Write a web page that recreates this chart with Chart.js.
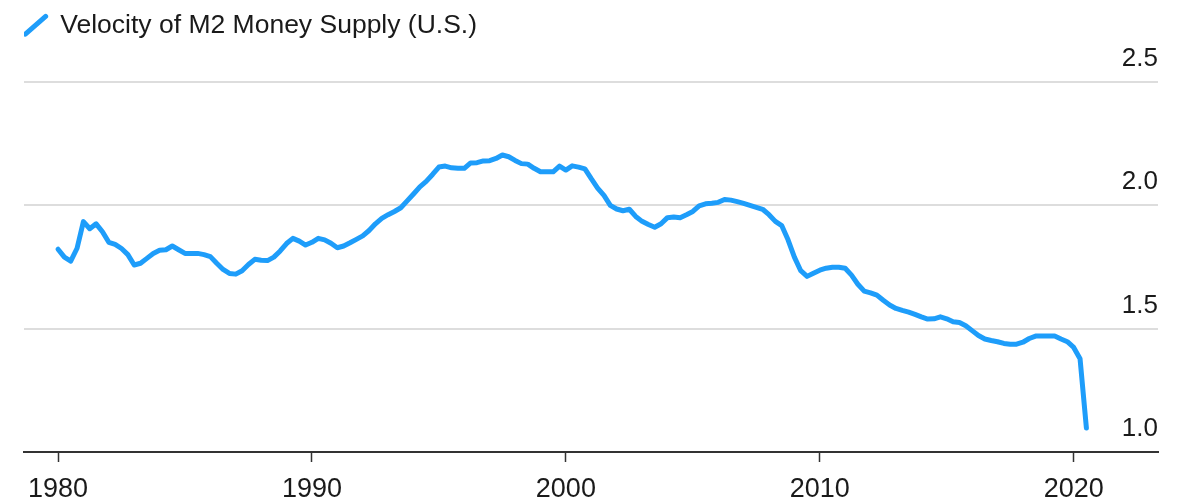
<!DOCTYPE html>
<html>
<head>
<meta charset="utf-8">
<script src="https://cdn.jsdelivr.net/npm/chart.js@4/dist/chart.umd.min.js"></script>
<style>
  html, body { margin: 0; padding: 0; background: #ffffff; }
  #wrap { width: 1197px; height: 502px; position: relative; }
</style>
</head>
<body>
<div id="wrap"><canvas id="c" width="1197" height="502"></canvas></div>
<script>
// ---- Data (quarterly, plotted at quarter-end dates) ----
const seriesLabel = 'Velocity of M2 Money Supply (U.S.)';

const dates = [
  1980.00, 1980.25, 1980.50, 1980.75,
  1981.00, 1981.25, 1981.50, 1981.75,
  1982.00, 1982.25, 1982.50, 1982.75,
  1983.00, 1983.25, 1983.50, 1983.75,
  1984.00, 1984.25, 1984.50, 1984.75,
  1985.00, 1985.25, 1985.50, 1985.75,
  1986.00, 1986.25, 1986.50, 1986.75,
  1987.00, 1987.25, 1987.50, 1987.75,
  1988.00, 1988.25, 1988.50, 1988.75,
  1989.00, 1989.25, 1989.50, 1989.75,
  1990.00, 1990.25, 1990.50, 1990.75,
  1991.00, 1991.25, 1991.50, 1991.75,
  1992.00, 1992.25, 1992.50, 1992.75,
  1993.00, 1993.25, 1993.50, 1993.75,
  1994.00, 1994.25, 1994.50, 1994.75,
  1995.00, 1995.25, 1995.50, 1995.75,
  1996.00, 1996.25, 1996.50, 1996.75,
  1997.00, 1997.25, 1997.50, 1997.75,
  1998.00, 1998.25, 1998.50, 1998.75,
  1999.00, 1999.25, 1999.50, 1999.75,
  2000.00, 2000.25, 2000.50, 2000.75,
  2001.00, 2001.25, 2001.50, 2001.75,
  2002.00, 2002.25, 2002.50, 2002.75,
  2003.00, 2003.25, 2003.50, 2003.75,
  2004.00, 2004.25, 2004.50, 2004.75,
  2005.00, 2005.25, 2005.50, 2005.75,
  2006.00, 2006.25, 2006.50, 2006.75,
  2007.00, 2007.25, 2007.50, 2007.75,
  2008.00, 2008.25, 2008.50, 2008.75,
  2009.00, 2009.25, 2009.50, 2009.75,
  2010.00, 2010.25, 2010.50, 2010.75,
  2011.00, 2011.25, 2011.50, 2011.75,
  2012.00, 2012.25, 2012.50, 2012.75,
  2013.00, 2013.25, 2013.50, 2013.75,
  2014.00, 2014.25, 2014.50, 2014.75,
  2015.00, 2015.25, 2015.50, 2015.75,
  2016.00, 2016.25, 2016.50, 2016.75,
  2017.00, 2017.25, 2017.50, 2017.75,
  2018.00, 2018.25, 2018.50, 2018.75,
  2019.00, 2019.25, 2019.50, 2019.75,
  2020.00, 2020.25, 2020.50
];

const velocity = [
  1.822, 1.790, 1.774, 1.826,
  1.934, 1.905, 1.925, 1.893,
  1.850, 1.842, 1.825, 1.800,
  1.758, 1.765, 1.785, 1.805,
  1.818, 1.820, 1.835, 1.820,
  1.805, 1.805, 1.805, 1.800,
  1.792, 1.765, 1.740, 1.724,
  1.721, 1.735, 1.760, 1.781,
  1.777, 1.776, 1.790, 1.815,
  1.845, 1.866, 1.855, 1.839,
  1.850, 1.866, 1.860, 1.846,
  1.828, 1.835, 1.848, 1.862,
  1.876, 1.898, 1.925, 1.947,
  1.962, 1.975, 1.990, 2.018,
  2.046, 2.075, 2.097, 2.125,
  2.155, 2.159, 2.152, 2.150,
  2.150, 2.172, 2.173, 2.180,
  2.181, 2.190, 2.204, 2.197,
  2.182, 2.169, 2.167, 2.150,
  2.136, 2.136, 2.136, 2.159,
  2.143, 2.160, 2.155, 2.148,
  2.108, 2.070, 2.040, 2.000,
  1.985, 1.978, 1.984, 1.955,
  1.935, 1.922, 1.911, 1.925,
  1.950, 1.953, 1.950, 1.962,
  1.975, 1.998, 2.006, 2.008,
  2.012, 2.024, 2.021, 2.015,
  2.008, 2.000, 1.992, 1.984,
  1.962, 1.935, 1.918, 1.860,
  1.790, 1.735, 1.712, 1.725,
  1.737, 1.745, 1.749, 1.749,
  1.745, 1.717, 1.680, 1.652,
  1.645, 1.636, 1.615, 1.596,
  1.582, 1.574, 1.567, 1.558,
  1.548, 1.539, 1.540, 1.548,
  1.540, 1.528, 1.525, 1.512,
  1.492, 1.472, 1.458, 1.452,
  1.447, 1.440, 1.437, 1.437,
  1.445, 1.460, 1.470, 1.470,
  1.470, 1.470, 1.458, 1.447,
  1.424, 1.378, 1.097
];

const xTickValues = [1980, 1990, 2000, 2010, 2020];
const yTickValues = [1.0, 1.5, 2.0, 2.5];

// ---- Styling ----
const LINE_COLOR = 'rgb(30,157,250)';
const TEXT_COLOR = '#1a1a1a';
const FONT_FAMILY = "'Liberation Sans', Arial, Helvetica, sans-serif";

const points = dates.map((d, i) => ({ x: d, y: velocity[i] }));

new Chart(document.getElementById('c'), {
  type: 'line',
  data: {
    datasets: [{
      label: seriesLabel,
      data: points,
      borderColor: LINE_COLOR,
      backgroundColor: LINE_COLOR,
      borderWidth: 5,
      pointRadius: 0,
      pointHoverRadius: 0,
      tension: 0,
      fill: false,
      borderCapStyle: 'round',
      borderJoinStyle: 'round'
    }]
  },
  options: {
    responsive: false,
    animation: false,
    events: [],
    layout: { padding: { left: 24, right: 39, top: 12, bottom: -15 } },
    plugins: {
      tooltip: { enabled: false },
      legend: {
        display: true,
        position: 'top',
        align: 'start',
        labels: {
          padding: 0,
          usePointStyle: true,
          boxWidth: 23,
          boxHeight: 19,
          color: TEXT_COLOR,
          font: { family: FONT_FAMILY, size: 26.5 },
          generateLabels: (chart) => [{
            text: seriesLabel,
            pointStyle: 'line',
            rotation: -41,
            strokeStyle: LINE_COLOR,
            fillStyle: LINE_COLOR,
            lineWidth: 5,
            lineCap: 'round',
            fontColor: TEXT_COLOR,
            hidden: false,
            datasetIndex: 0
          }]
        }
      }
    },
    scales: {
      x: {
        type: 'linear',
        min: 1978.66,
        max: 2023.32,
        afterBuildTicks: (scale) => { scale.ticks = xTickValues.map(v => ({ value: v })); },
        ticks: {
          color: TEXT_COLOR,
          font: { family: FONT_FAMILY, size: 27, lineHeight: 1 },
          padding: 14,
          maxRotation: 0,
          autoSkip: false,
          callback: (v) => String(v)
        },
        grid: {
          display: true,
          drawOnChartArea: false,
          drawTicks: true,
          tickLength: 10,
          tickColor: '#333333',
          tickWidth: 1.5
        },
        border: { display: true, color: '#333333', width: 2 }
      },
      y: {
        type: 'linear',
        position: 'right',
        min: 1.0,
        max: 2.6357,
        afterBuildTicks: (scale) => { scale.ticks = yTickValues.map(v => ({ value: v })); },
        ticks: {
          mirror: true,
          padding: 0,
          labelOffset: -23,
          color: TEXT_COLOR,
          font: { family: FONT_FAMILY, size: 26 },
          callback: (v) => Number(v).toFixed(1)
        },
        grid: {
          drawTicks: false,
          lineWidth: 2,
          color: (ctx) => (ctx.tick && ctx.tick.value === 1.0) ? 'rgba(0,0,0,0)' : '#dddddd'
        },
        border: { display: false }
      }
    }
  }
});
</script>
</body>
</html>
